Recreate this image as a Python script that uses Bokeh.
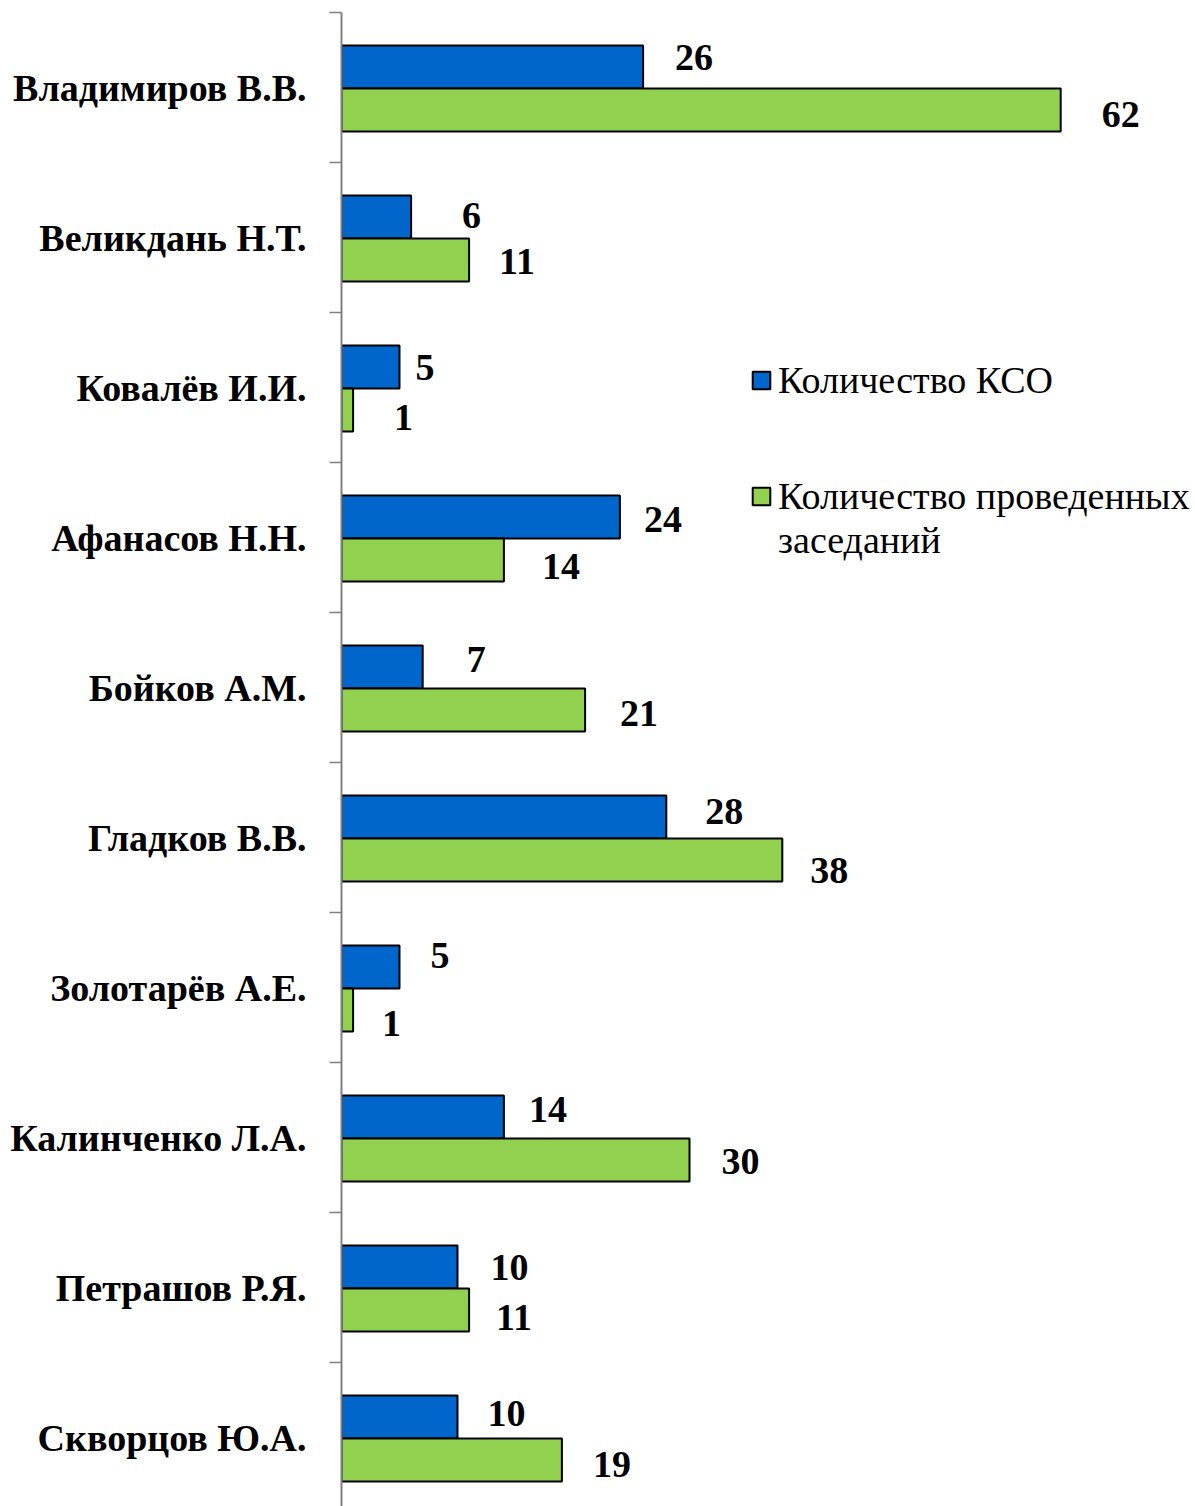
import numpy as np
from bokeh.plotting import figure
from bokeh.models import (ColumnDataSource, Range1d, LinearAxis, FixedTicker,
                          Legend, LegendItem)
from bokeh.core.properties import value
from bokeh.embed import file_html
from bokeh.resources import INLINE

# ---- data ----
names = ["Владимиров В.В.", "Великдань Н.Т.", "Ковалёв И.И.", "Афанасов Н.Н.",
         "Бойков А.М.", "Гладков В.В.", "Золотарёв А.Е.", "Калинченко Л.А.",
         "Петрашов Р.Я.", "Скворцов Ю.А."]
kso = [26, 6, 5, 24, 7, 28, 5, 14, 10, 10]
meetings = [62, 11, 1, 14, 21, 38, 1, 30, 11, 19]
series_names = ["Количество КСО", "Количество проведенных", "заседаний"]

# ---- label placement offsets (screen px, Excel manual positions) ----
kso_dx = [32, 51, 16, 24, 44, 39, 31, 25, 33, 30]
kso_dy = [-9, -1, 1, 3, -7, -5, -11, -7, 1, -3]
mt_dx = [41, 30, 41, 38, 35, 28, 29, 32, 27, 31]
mt_dy = [4, 1, 7, 6, 3, 10, 13, 1, 7, 4]

BLUE = "#0066CC"
GREEN = "#92D050"
SERIF = "Liberation Serif"

n = len(names)
centers = np.array([n - 0.5 - i for i in range(n)])
bounds = [float(n - i) for i in range(n + 1)]
bar_h = 43 / 150
blue_y = centers + 0.1367
green_y = centers - 0.15

src_b = ColumnDataSource(dict(y=blue_y, v=kso, t=[str(v) for v in kso],
                              dx=kso_dx, dy=kso_dy))
src_g = ColumnDataSource(dict(y=green_y, v=meetings, t=[str(v) for v in meetings],
                              dx=mt_dx, dy=mt_dy))

W, H = 1195, 1506
left, top = 341, 12
px_per_unit = 11.6
frame_w = W - left
frame_h = H - top

p = figure(width=W, height=H, output_backend="svg", toolbar_location=None,
           x_axis_type=None, y_axis_type=None,
           x_range=Range1d(0, frame_w / px_per_unit),
           y_range=Range1d(n - frame_h / 150, n),
           min_border_left=left, min_border_right=0, min_border_top=top,
           min_border_bottom=0)
p.outline_line_color = None
p.background_fill_color = "white"
p.border_fill_color = "white"

rb = p.hbar(y="y", right="v", left=0, height=bar_h, source=src_b,
            fill_color=BLUE, line_color="black", line_width=2)
rg = p.hbar(y="y", right="v", left=0, height=bar_h, source=src_g,
            fill_color=GREEN, line_color="black", line_width=2)

for src in (src_b, src_g):
    p.text(x="v", y="y", text="t", x_offset="dx", y_offset="dy", source=src,
           text_font=value(SERIF), text_font_style="bold", text_font_size="38px",
           text_align="left", text_baseline="middle", text_color="black")

ax = LinearAxis(ticker=FixedTicker(ticks=list(centers), minor_ticks=bounds),
                major_label_overrides={float(c): nm for c, nm in zip(centers, names)})
ax.axis_line_color = "#808080"
ax.axis_line_width = 2
ax.major_tick_out = 0
ax.major_tick_in = 0
ax.minor_tick_out = 12
ax.minor_tick_in = 0
ax.minor_tick_line_color = "#808080"
ax.minor_tick_line_width = 1.5
ax.major_label_standoff = 23
ax.major_label_text_font = SERIF
ax.major_label_text_font_style = "bold"
ax.major_label_text_font_size = "38px"
ax.major_label_text_color = "black"
p.add_layout(ax, "left")


def make_legend(items, loc):
    lg = Legend(items=items, location=loc, orientation="vertical")
    lg.label_text_font = SERIF
    lg.label_text_font_size = "38px"
    lg.label_text_color = "black"
    lg.label_height = 43
    lg.glyph_width = 22
    lg.glyph_height = 22
    lg.label_standoff = 6
    lg.spacing = 0
    lg.padding = 0
    lg.margin = 0
    lg.border_line_color = None
    lg.background_fill_alpha = 0
    return lg


leg1 = make_legend([LegendItem(label=series_names[0], renderers=[rb])],
                   (409, round(H - 401.5)))
leg2 = make_legend([LegendItem(label=series_names[1], renderers=[rg]),
                    LegendItem(label=series_names[2], renderers=[])],
                   (409, round(H - 561.5)))
p.add_layout(leg1, "center")
p.add_layout(leg2, "center")

open("out.html", "w").write(file_html(p, INLINE))
